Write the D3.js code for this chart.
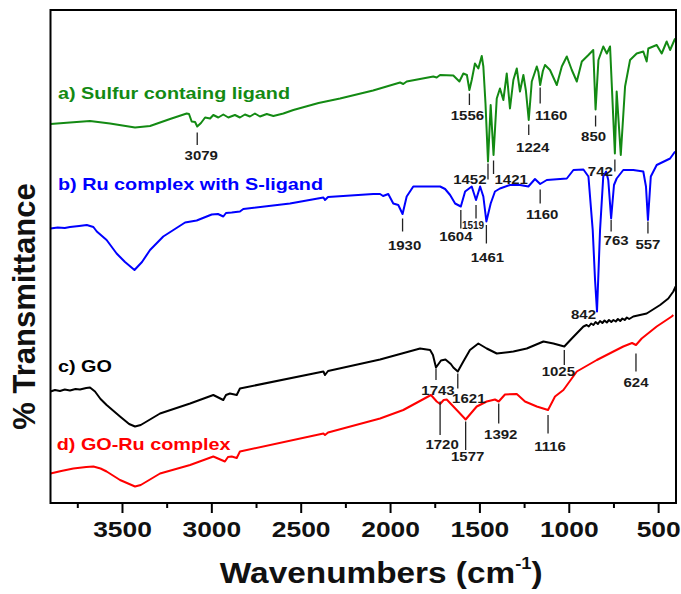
<!DOCTYPE html>
<html>
<head>
<meta charset="utf-8">
<script src="https://cdn.jsdelivr.net/npm/d3@7"></script>
<style>
  html, body { margin: 0; padding: 0; background: #fff; }
  svg { display: block; font-family: "Liberation Sans", Arial, sans-serif; }
</style>
</head>
<body>
<svg id="chart" width="681" height="594"></svg>
<script>
// ---- Axis ticks (wavenumber, cm-1) ----
const majorTicks = [3500, 3000, 2500, 2000, 1500, 1000, 500];
const minorTicks = [3750, 3250, 2750, 2250, 1750, 1250, 750];

// ---- Series names ----
const seriesNames = [
  "a) Sulfur containg ligand",
  "b) Ru complex with S-ligand",
  "c) GO",
  "d) GO-Ru complex"
];

// ---- FTIR spectra: [wavenumber, %T (offset, arbitrary)] ----
const sulfurLigand = [
  [3900,75.8],[3791,76.1],[3679,76.4],[3567,75.9],[3427,75.1],[3343,75.4],[3231,76.8],
  [3138,77.9],[3125,77.8],[3110,76.3],[3091,76.2],[3079,75.3],[3058,76.0],[3035,77.1],
  [3007,76.9],[2989,77.6],[2961,77.1],[2933,77.7],[2905,77.1],[2868,77.6],[2840,77.1],
  [2812,77.7],[2784,77.3],[2756,77.9],[2728,77.3],[2690,77.8],[2653,77.4],[2597,77.9],
  [2541,78.6],[2400,80.0],[2280,80.9],[2095,82.5],[1944,84.1],[1926,83.8],[1907,84.3],
  [1758,85.3],[1739,85.1],[1720,85.6],[1646,85.5],[1612,84.3],[1590,85.9],[1570,85.6],
  [1556,82.6],[1543,84.6],[1525,87.9],[1506,86.9],[1487,89.4],[1478,87.3],[1466,79.9],
  [1452,68.3],[1437,79.6],[1421,69.6],[1403,80.9],[1385,82.9],[1366,80.6],[1347,85.9],
  [1329,78.9],[1310,84.6],[1291,86.9],[1273,82.3],[1254,85.6],[1240,82.5],[1224,76.6],
  [1207,84.3],[1179,87.3],[1170,86.2],[1160,83.6],[1145,86.4],[1133,87.6],[1105,86.6],
  [1067,83.6],[1039,87.3],[1011,89.3],[983,86.6],[955,84.3],[927,88.3],[890,89.6],
  [863,90.6],[850,78.7],[834,88.6],[807,91.3],[787,89.9],[769,91.3],[742,69.9],
  [732,82.3],[709,69.6],[685,83.3],[657,88.6],[620,89.9],[583,90.3],[564,88.3],
  [555,90.9],[508,91.6],[480,89.9],[452,92.3],[433,90.6],[405,92.9]
];

const ruComplex = [
  [3900,54.9],[3860,55.1],[3820,55.0],[3791,55.2],[3740,55.4],[3697,55.6],[3660,55.2],
  [3641,54.3],[3586,52.6],[3530,49.9],[3483,48.2],[3430,46.6],[3388,48.2],[3343,50.6],
  [3269,53.3],[3147,56.1],[3082,56.5],[2998,57.7],[2963,57.8],[2933,57.3],[2918,58.0],
  [2886,58.1],[2840,58.3],[2821,58.8],[2560,59.9],[2373,61.1],[2364,60.6],[2347,61.2],
  [2094,61.8],[2056,61.8],[2039,61.4],[2010,61.8],[1982,59.9],[1954,59.6],[1930,57.8],
  [1907,61.3],[1870,63.3],[1720,63.3],[1692,62.8],[1664,61.6],[1636,59.9],[1604,59.3],
  [1580,62.3],[1543,63.3],[1519,60.6],[1496,63.3],[1478,61.3],[1461,56.3],[1437,59.9],
  [1413,62.3],[1385,62.9],[1329,63.6],[1273,63.6],[1226,63.3],[1189,64.8],[1160,63.8],
  [1123,64.6],[1011,64.9],[974,66.6],[918,66.7],[890,65.3],[866,54.6],[853,44.6],
  [842,38.3],[825,54.6],[807,65.3],[791,66.3],[779,64.6],[763,56.9],[747,63.6],
  [732,64.9],[695,66.6],[639,66.6],[583,66.3],[568,63.3],[557,56.6],[541,65.3],
  [508,67.6],[433,68.9],[405,70.3]
];

const grapheneOxide = [
  [3900,22.3],[3875,22.6],[3847,22.4],[3820,22.7],[3791,22.5],[3760,22.8],[3735,22.7],
  [3700,23.0],[3679,23.1],[3651,22.3],[3620,20.8],[3586,19.6],[3511,17.3],[3460,15.8],
  [3427,15.3],[3395,15.6],[3362,16.3],[3287,17.9],[3119,19.9],[2989,21.6],[2933,20.6],
  [2918,21.6],[2896,21.9],[2858,21.6],[2840,22.9],[2373,26.3],[2364,25.6],[2347,26.4],
  [2056,28.7],[1832,30.9],[1776,30.6],[1760,29.6],[1743,27.1],[1715,28.5],[1690,28.7],
  [1660,27.8],[1646,27.1],[1621,26.3],[1590,28.3],[1553,30.6],[1506,31.9],[1459,30.9],
  [1403,29.9],[1310,30.3],[1235,30.9],[1142,32.3],[1086,31.9],[1025,31.3],[983,32.9],
  [918,35.3],[900,35.6],[888,35.3],[875,35.9],[862,35.6],[850,36.2],[837,35.8],
  [825,36.4],[812,36.0],[800,36.5],[787,36.1],[775,36.6],[762,36.2],[750,36.6],
  [737,36.3],[725,36.8],[712,36.4],[700,36.9],[687,36.6],[675,37.1],[662,36.8],
  [639,37.3],[564,37.9],[489,39.6],[443,40.9],[415,42.3],[402,43.3]
];

const goRuComplex = [
  [3900,5.9],[3840,6.4],[3772,6.9],[3700,7.2],[3660,7.3],[3620,6.9],[3586,6.3],
  [3511,4.6],[3427,3.3],[3395,3.6],[3362,4.3],[3287,5.9],[3119,7.6],[2989,9.3],
  [2924,8.3],[2907,9.2],[2886,9.3],[2858,9.0],[2840,10.3],[2373,13.9],[2364,13.6],
  [2347,14.1],[2056,16.9],[1926,18.6],[1771,21.6],[1739,20.3],[1720,19.8],[1700,20.6],
  [1683,20.7],[1627,18.6],[1577,16.7],[1515,19.3],[1459,20.3],[1413,20.7],[1392,20.3],
  [1357,21.7],[1291,21.8],[1245,20.3],[1179,19.3],[1116,18.6],[1077,21.3],[1030,22.6],
  [955,26.3],[843,28.6],[750,30.3],[695,31.3],[646,32.0],[624,31.6],[592,32.9],
  [508,35.3],[424,37.3],[415,37.6]
];

// ---- Assigned band positions (cm-1) ----
const peaksA = [3079, 1556, 1452, 1421, 1224, 1160, 850, 742];
const peaksB = [1930, 1604, 1519, 1461, 1160, 842, 763, 557];
const peaksC = [1743, 1621, 1025];
const peaksD = [1720, 1577, 1392, 1116, 624];

// Leader line span (from, to) and label baseline, in %T units, in band order
const leadersA = [[74.1,71.6,68.7],[81.9,79.6,76.6],[67.9,64.7,63.8],[68.5,65.8,63.8],
                  [75.7,73.6,70.3],[83.1,79.9,76.6],[77.5,75.3,72.5],[68.7,66.3,65.5]];
const leadersB = [[56.9,54.3,50.6],[58.6,54.9,52.5],[59.6,56.9,54.9],[55.6,51.9,48.3],
                  [62.7,59.9,56.9],[null,null,36.9],[56.6,54.3,51.7],[56.3,53.9,50.9]];
const leadersC = [[26.9,24.6,21.6],[25.9,22.9,20.1],[30.6,27.6,25.4]];
const leadersD = [[20.3,13.6,10.9],[16.3,10.6,8.5],[19.9,15.9,12.9],[17.6,13.9,10.5],[29.9,26.3,23.3]];

// Label text nudges (px) and anchors
const nudgeA = [[4,"middle"],[-2,"middle"],[-1.5,"end"],[1,"start"],[4,"middle"],[11,"middle"],[-2,"middle"],[-2,"end"]];
const nudgeB = [[2,"middle"],[-5,"middle"],[-3,"middle"],[1,"middle"],[2,"middle"],[-1,"end"],[5,"middle"],[0,"middle"]];
const nudgeC = [[2,"middle"],[11,"middle"],[-6,"middle"]];
const nudgeD = [[2,"middle"],[2,"middle"],[2,"middle"],[2,"middle"],[0,"middle"]];

// Series label anchor points [wavenumber, %T]
const seriesLabelAt = [[3858,80.8],[3858,62.6],[3858,26.3],[3865,10.7]];

const colors = ["#138a13", "#0000ff", "#000000", "#ff0000"];

// ---- Layout ----
const svg = d3.select("#chart");
const W = 681, H = 594;
const plot = { left: 50.5, right: 676, top: 10, bottom: 503 };
const SX = 1.2; // horizontal glyph stretch used throughout

const x = d3.scaleLinear().domain([3900, 400]).range([plot.left, plot.right]);
const y = d3.scaleLinear().domain([0, 98.6]).range([plot.bottom, plot.top]);

svg.append("rect").attr("width", W).attr("height", H).attr("fill", "#fff");

function stretchedText(g, px, py, str, size, weight, fill, anchor, sx) {
  return g.append("text")
    .attr("transform", `translate(${px},${py}) scale(${sx === undefined ? SX : sx},1)`)
    .attr("text-anchor", anchor || "start")
    .attr("font-size", size)
    .attr("font-weight", weight)
    .attr("fill", fill)
    .text(str);
}

// ---- Spectra ----
const line = d3.line().x(d => x(d[0])).y(d => y(d[1]));
const spectra = [sulfurLigand, ruComplex, grapheneOxide, goRuComplex];
const gLines = svg.append("g");
spectra.forEach((s, i) => {
  gLines.append("path")
    .datum(s)
    .attr("d", line)
    .attr("fill", "none")
    .attr("stroke", colors[i])
    .attr("stroke-width", 2)
    .attr("stroke-linejoin", "round");
});

// ---- Band annotations ----
const gAnn = svg.append("g");
function annotate(peaks, leaders, nudges, smallIdx) {
  peaks.forEach((wn, i) => {
    const [from, to, at] = leaders[i];
    const [dx, anchor] = nudges[i];
    const px = x(wn);
    if (from !== null) {
      gAnn.append("line")
        .attr("x1", px).attr("x2", px)
        .attr("y1", y(from)).attr("y2", y(to))
        .attr("stroke", "#222").attr("stroke-width", 1.3);
    }
    const small = smallIdx === i;
    stretchedText(gAnn, px + dx, y(at), String(wn), small ? 10 : 12.5, "bold", "#1a1a1a", anchor, small ? 1.0 : SX);
  });
}
annotate(peaksA, leadersA, nudgeA);
annotate(peaksB, leadersB, nudgeB, 2);
annotate(peaksC, leadersC, nudgeC);
annotate(peaksD, leadersD, nudgeD);

// ---- Series labels ----
seriesNames.forEach((name, i) => {
  const [wn, t] = seriesLabelAt[i];
  stretchedText(svg, x(wn), y(t), name, 16.5, "bold", colors[i], "start");
});

// ---- Frame ----
svg.append("rect")
  .attr("x", plot.left).attr("y", plot.top)
  .attr("width", plot.right - plot.left).attr("height", plot.bottom - plot.top)
  .attr("fill", "none").attr("stroke", "#000").attr("stroke-width", 2);

// ---- X axis ----
const gMajor = svg.append("g")
  .attr("transform", `translate(0,${plot.bottom})`)
  .call(d3.axisBottom(x).tickValues(majorTicks).tickSize(10).tickPadding(8).tickFormat(d3.format("d")));
gMajor.select(".domain").remove();
gMajor.selectAll(".tick line").attr("stroke", "#000").attr("stroke-width", 2);
gMajor.selectAll(".tick text")
  .attr("font-size", 22).attr("font-weight", "bold").attr("fill", "#111")
  .attr("font-family", "'Liberation Sans', Arial, sans-serif")
  .attr("transform", `scale(${SX},1)`);

const gMinor = svg.append("g")
  .attr("transform", `translate(0,${plot.bottom})`)
  .call(d3.axisBottom(x).tickValues(minorTicks).tickSize(5).tickFormat(""));
gMinor.select(".domain").remove();
gMinor.selectAll(".tick line").attr("stroke", "#000").attr("stroke-width", 2);

// ---- Axis titles ----
const xTitle = svg.append("text")
  .attr("transform", `translate(${(plot.left + plot.right) / 2 + 18},583) scale(1.15,1)`)
  .attr("text-anchor", "middle")
  .attr("font-size", 29).attr("font-weight", "bold").attr("fill", "#111");
xTitle.append("tspan").text("Wavenumbers (cm");
xTitle.append("tspan").attr("font-size", 16).attr("dy", -14).text("-1");
xTitle.append("tspan").attr("dy", 14).text(")");

svg.append("text")
  .attr("transform", `translate(35,${(plot.top + plot.bottom) / 2 + 50}) rotate(-90)`)
  .attr("text-anchor", "middle")
  .attr("font-size", 31).attr("font-weight", "bold").attr("fill", "#111")
  .text("% Transmittance");
</script>
</body>
</html>
